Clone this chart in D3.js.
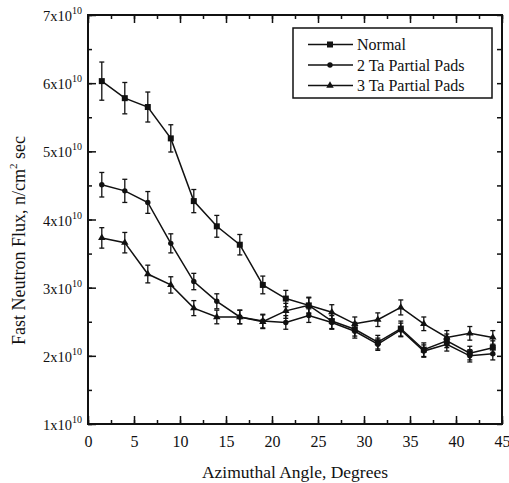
<!DOCTYPE html>
<html>
<head>
<meta charset="utf-8">
<script src="https://cdn.jsdelivr.net/npm/d3@7"></script>
<style>
  body { margin: 0; background: #fff; }
  svg text { font-family: "Liberation Serif", "Times New Roman", serif; fill: #111; }
</style>
</head>
<body>
<svg class="mainsvg" width="509" height="483"></svg>
<script>
// azimuthal angle (degrees)
var angles = [1.5, 4, 6.5, 9, 11.5, 14, 16.5, 19, 21.5, 24, 26.5, 29, 31.5, 34, 36.5, 39, 41.5, 44];

// flux values, units of 1e10 n/cm2 sec
var normal = [6.03, 5.78, 5.65, 5.19, 4.27, 3.90, 3.63, 3.04, 2.84, 2.74, 2.51, 2.39, 2.20, 2.40, 2.09, 2.22, 2.04, 2.12];
var twoTa = [4.51, 4.42, 4.25, 3.65, 3.09, 2.80, 2.57, 2.51, 2.49, 2.59, 2.49, 2.36, 2.17, 2.38, 2.07, 2.17, 2.00, 2.03];
var threeTa = [3.73, 3.66, 3.20, 3.04, 2.70, 2.57, 2.57, 2.50, 2.66, 2.74, 2.64, 2.47, 2.53, 2.71, 2.47, 2.27, 2.33, 2.27];

// error bar half-heights
var normalErr = [0.28, 0.23, 0.22, 0.20, 0.17, 0.16, 0.15, 0.13, 0.12, 0.12, 0.11, 0.10, 0.10, 0.11, 0.10, 0.10, 0.10, 0.10];
var twoTaErr = [0.18, 0.17, 0.16, 0.14, 0.12, 0.11, 0.10, 0.10, 0.10, 0.10, 0.10, 0.10, 0.09, 0.10, 0.09, 0.10, 0.09, 0.09];
var threeTaErr = [0.15, 0.15, 0.13, 0.12, 0.11, 0.10, 0.10, 0.10, 0.11, 0.11, 0.11, 0.10, 0.10, 0.11, 0.10, 0.10, 0.10, 0.10];

var seriesNames = ["Normal", "2 Ta Partial Pads", "3 Ta Partial Pads"];
var xTicks = [0, 5, 10, 15, 20, 25, 30, 35, 40, 45];
var yTicks = [1, 2, 3, 4, 5, 6, 7];

var svg = d3.select('.mainsvg');
var pLeft = 88, pRight = 502, pTop = 15, pBottom = 424;

var x = d3.scaleLinear().domain([0, 45]).range([pLeft, pRight]);
var y = d3.scaleLinear().domain([1, 7]).range([pBottom, pTop]);

var series = [
	{name: seriesNames[0], values: normal, err: normalErr, marker: 'square'},
	{name: seriesNames[1], values: twoTa, err: twoTaErr, marker: 'circle'},
	{name: seriesNames[2], values: threeTa, err: threeTaErr, marker: 'triangle'}
];

function drawMarker (g, type, cx, cy) {
	if (type == 'square') {
		g.append('rect')
			.attr('x', cx - 3).attr('y', cy - 3)
			.attr('width', 6).attr('height', 6)
			.attr('fill', '#111')
	}
	else if (type == 'circle') {
		g.append('circle')
			.attr('cx', cx).attr('cy', cy).attr('r', 2.7)
			.attr('fill', '#111')
	}
	else {
		g.append('path')
			.attr('d', d3.symbol().type(d3.symbolTriangle).size(24)())
			.attr('transform', 'translate(' + cx + ',' + cy + ')')
			.attr('fill', '#111')
	}
}

// axes, inward ticks on all four sides
var minorX = d3.range(0, 45.01, 2.5);
var minorY = d3.range(1, 7.01, 0.5);

svg.append('g')
	.attr('transform', 'translate(0,' + pBottom + ')')
	.call(d3.axisBottom(x).tickValues(minorX).tickSize(-4).tickFormat(''))
	.call(g => g.select('.domain').remove());
svg.append('g')
	.attr('transform', 'translate(0,' + pBottom + ')')
	.call(d3.axisBottom(x).tickValues(xTicks).tickSize(-8).tickPadding(12).tickFormat(d3.format('d')))
	.call(g => g.select('.domain').remove())
	.selectAll('text')
	.attr('font-size', '16px')
	.attr('font-family', '"Liberation Serif", serif');
svg.append('g')
	.attr('transform', 'translate(0,' + pTop + ')')
	.call(d3.axisTop(x).tickValues(minorX).tickSize(-4).tickFormat(''))
	.call(g => g.select('.domain').remove());
svg.append('g')
	.attr('transform', 'translate(0,' + pTop + ')')
	.call(d3.axisTop(x).tickValues(xTicks).tickSize(-8).tickFormat(''))
	.call(g => g.select('.domain').remove());

svg.append('g')
	.attr('transform', 'translate(' + pLeft + ',0)')
	.call(d3.axisLeft(y).tickValues(minorY).tickSize(-4).tickFormat(''))
	.call(g => g.select('.domain').remove());
svg.append('g')
	.attr('transform', 'translate(' + pLeft + ',0)')
	.call(d3.axisLeft(y).tickValues(yTicks).tickSize(-8).tickFormat(''))
	.call(g => g.select('.domain').remove());
svg.append('g')
	.attr('transform', 'translate(' + pRight + ',0)')
	.call(d3.axisRight(y).tickValues(minorY).tickSize(-5).tickFormat(''))
	.call(g => g.select('.domain').remove());

svg.selectAll('.tick line').attr('stroke', '#111').attr('stroke-width', 1.5);

svg.append('rect')
	.attr('x', pLeft).attr('y', pTop)
	.attr('width', pRight - pLeft).attr('height', pBottom - pTop)
	.attr('fill', 'none')
	.attr('stroke', '#111')
	.attr('stroke-width', 2);

// y tick labels, a x 10^10
yTicks.forEach(function (v) {
	var t = svg.append('text')
		.attr('x', 82)
		.attr('y', y(v) + 6)
		.attr('font-size', '14.5px')
		.style('text-anchor', 'end');
	t.append('tspan').text(v + 'x10');
	t.append('tspan').attr('dy', -7).attr('font-size', '10px').text('10');
});

// axis titles
svg.append('text')
	.attr('x', (pLeft + pRight) / 2)
	.attr('y', 478)
	.attr('font-size', '17.5px')
	.style('text-anchor', 'middle')
	.text('Azimuthal Angle, Degrees');

var yt = svg.append('text')
	.attr('transform', 'translate(25,345) rotate(-90)')
	.attr('font-size', '18px')
	.style('text-anchor', 'start');
yt.append('tspan').text('Fast Neutron Flux, n/cm');
yt.append('tspan').attr('dy', -8).attr('font-size', '11px').text('2');
yt.append('tspan').attr('dy', 8).text(' sec');

// series
var line = d3.line()
	.x(function (d) { return x(d[0]); })
	.y(function (d) { return y(d[1]); });

series.forEach(function (s) {
	var g = svg.append('g');
	var pts = angles.map(function (a, i) { return [a, s.values[i], s.err[i]]; });

	g.append('path')
		.datum(pts)
		.attr('d', line)
		.attr('fill', 'none')
		.attr('stroke', '#111')
		.attr('stroke-width', 1.5);

	pts.forEach(function (p) {
		var cx = x(p[0]);
		g.append('line')
			.attr('x1', cx).attr('x2', cx)
			.attr('y1', y(p[1] - p[2])).attr('y2', y(p[1] + p[2]))
			.attr('stroke', '#111').attr('stroke-width', 1.3);
		[p[1] - p[2], p[1] + p[2]].forEach(function (v) {
			g.append('line')
				.attr('x1', cx - 2.5).attr('x2', cx + 2.5)
				.attr('y1', y(v)).attr('y2', y(v))
				.attr('stroke', '#111').attr('stroke-width', 1.3);
		});
		drawMarker(g, s.marker, cx, y(p[1]));
	});
});

// legend
var lg = svg.append('g');
lg.append('rect')
	.attr('x', 293).attr('y', 28)
	.attr('width', 199).attr('height', 70)
	.attr('fill', '#fff')
	.attr('stroke', '#111')
	.attr('stroke-width', 1.5);

series.forEach(function (s, i) {
	var ly = 44.5 + i * 20.5;
	lg.append('line')
		.attr('x1', 308).attr('x2', 353)
		.attr('y1', ly).attr('y2', ly)
		.attr('stroke', '#111').attr('stroke-width', 1.4);
	drawMarker(lg, s.marker, 330, ly);
	lg.append('text')
		.attr('x', 357)
		.attr('y', ly + 5.5)
		.attr('font-size', '16px')
		.text(s.name);
});
</script>
</body>
</html>
